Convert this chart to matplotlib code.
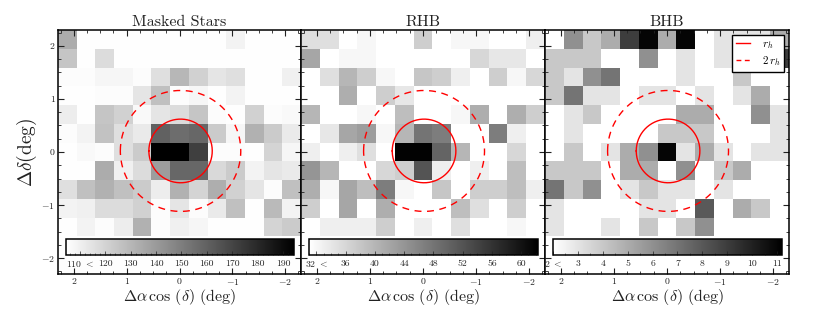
import numpy as np
import matplotlib
matplotlib.use("Agg")
import matplotlib.pyplot as plt

plt.rcParams['font.family'] = ['cmr10', 'DejaVu Serif']
plt.rcParams['mathtext.fontset'] = 'cm'
plt.rcParams['axes.formatter.use_mathtext'] = True
plt.rcParams['axes.unicode_minus'] = False

titles = ["Masked Stars", "RHB", "BHB"]

# counts per cell, top row first (the two rows behind the colorbar are empty)
masked = [
    [134, 105, 105, 105, 105, 105, 105, 105, 105, 109, 105, 105, 105],
    [125, 105, 117, 105, 105, 105, 105, 105, 105, 105, 105, 105, 105],
    [106, 106, 108, 108, 106, 116, 130, 121, 114, 116, 105, 105, 110],
    [105, 105, 106, 106, 114, 127, 106, 108, 105, 109, 105, 105, 105],
    [111, 105, 125, 121, 107, 114, 117, 125, 106, 105, 121, 106, 107],
    [106, 109, 126, 116, 112, 160, 156, 158, 123, 108, 132, 123, 112],
    [105, 107, 106, 116, 123, 194, 194, 172, 106, 106, 105, 120, 108],
    [105, 105, 134, 110, 117, 139, 158, 158, 118, 123, 109, 114, 112],
    [116, 127, 132, 127, 123, 111, 132, 120, 133, 121, 114, 106, 127],
    [109, 110, 117, 117, 121, 106, 114, 106, 112, 127, 105, 129, 109],
    [105, 109, 106, 111, 132, 106, 110, 108, 105, 105, 105, 120, 123],
    [105] * 13,
    [105] * 13,
]
rhb = [
    [35, 35, 31, 32, 31, 31, 37, 31, 32, 32, 31, 31, 33],
    [42, 31, 32, 32, 31, 31, 31, 31, 31, 36, 34, 34, 31],
    [31, 35, 40, 37, 32, 31, 38, 37, 33, 31, 37, 32, 36],
    [31, 31, 41, 31, 37, 34, 31, 31, 31, 31, 31, 31, 31],
    [40, 31, 31, 32, 31, 39, 31, 31, 32, 41, 31, 41, 37],
    [31, 34, 42, 43, 32, 40, 48, 47, 31, 31, 47, 33, 31],
    [33, 31, 33, 35, 31, 62, 62, 50, 40, 31, 31, 36, 31],
    [44, 40, 31, 31, 36, 37, 52, 33, 31, 33, 31, 39, 31],
    [41, 32, 42, 39, 47, 32, 31, 38, 31, 37, 37, 39, 33],
    [37, 31, 42, 31, 41, 31, 31, 31, 39, 35, 31, 37, 31],
    [31, 33, 33, 33, 37, 31, 33, 31, 35, 31, 31, 32, 31],
    [31] * 13,
    [31] * 13,
]
bhb = [
    [2, 6, 4, 5, 9, 11, 5, 11, 2, 3, 3, 3, 5],
    [4, 4, 4, 2, 2, 6, 2, 3, 2, 3, 2, 2, 9],
    [4, 3, 6, 7, 2, 2, 2, 3, 2, 2, 4, 2, 2],
    [4, 7, 3, 3, 2, 3, 3, 2, 3, 2, 3, 5, 2],
    [2, 3, 4, 2, 2, 2, 2, 5, 5, 2, 2, 6, 3],
    [2, 3, 2, 2, 2, 2, 4, 4, 4, 2, 2, 2, 3],
    [2, 4, 2, 3, 5, 6, 11, 3, 5, 3, 2, 3, 3],
    [4, 4, 4, 2, 5, 5, 2, 6, 2, 4, 5, 2, 2],
    [7, 4, 6, 2, 3, 4, 3, 3, 2, 3, 2, 2, 2],
    [3, 2, 2, 2, 2, 3, 3, 2, 8, 2, 5, 4, 2],
    [3, 2, 2, 3, 2, 4, 2, 4, 6, 2, 2, 2, 2],
    [2] * 13,
    [2] * 13,
]
grids = [masked, rhb, bhb]

vmins = [104.6, 31.0, 2.0]
vmaxs = [194.3, 62.3, 11.2]
cbar_ticks = [
    [110, 120, 130, 140, 150, 160, 170, 180, 190],
    [32, 36, 40, 44, 48, 52, 56, 60],
    [2, 3, 4, 5, 6, 7, 8, 9, 10, 11],
]
cbar_minor = [2, 1, 0.5]

r_h = 0.6
r_2h = 1.14
lim = 2.3
edges = np.linspace(lim, -lim, 14)
angle = np.linspace(0, 2 * np.pi, 200)

W, H = 830.0, 312.0
lefts = [58, 301, 545]
rights = [301, 545, 789]
top, bottom = 30, 274

fig = plt.figure(figsize=(8.3, 3.12), dpi=100)

for i in range(3):
    ax = fig.add_axes([lefts[i] / W, 1 - bottom / H, (rights[i] - lefts[i]) / W, (bottom - top) / H])
    mesh = ax.pcolormesh(edges, edges, np.array(grids[i]), cmap='gray_r', vmin=vmins[i], vmax=vmaxs[i])

    ax.plot(r_h * np.cos(angle) - 0.02, r_h * np.sin(angle) + 0.02, color='red', lw=1, label=r'$r_h$')
    ax.plot(r_2h * np.cos(angle) - 0.02, r_2h * np.sin(angle) + 0.02, color='red', lw=1,
            ls=(0, (5, 4)), label=r'$2\,r_h$')

    ax.set_xlim(lim, -lim)
    ax.set_ylim(-lim, lim)
    ax.set_xticks([2, 1, 0, -1, -2])
    ax.set_xticklabels(['2', '1', '0', r'$-1$', r'$-2$'])
    ax.set_yticks([-2, -1, 0, 1, 2])
    ax.set_yticklabels([r'$-2$', r'$-1$', '0', '1', '2'])
    ax.xaxis.set_minor_locator(plt.MultipleLocator(0.25))
    ax.yaxis.set_minor_locator(plt.MultipleLocator(0.25))
    ax.tick_params(which='both', direction='in', top=True, right=True, labelsize=7, colors='#222222')
    ax.tick_params(which='major', length=4, width=0.8, pad=2.5)
    ax.tick_params(which='minor', length=2, width=0.6)
    if i > 0:
        ax.tick_params(labelleft=False)
    for s in ax.spines.values():
        s.set_linewidth(1.1)

    ax.set_title(titles[i], fontsize=11.5, pad=3, color='#222222')
    ax.set_xlabel(r'$\Delta\alpha\,\cos\,(\delta)\ ({\rm deg})$', fontsize=11.5, labelpad=0, color='#222222')
    if i == 0:
        ax.set_ylabel(r'$\Delta\delta({\rm deg})$', fontsize=14, labelpad=1, color='#222222')
    if i == 2:
        leg = ax.legend(loc='upper right', fontsize=8, fancybox=False, framealpha=1, edgecolor='black',
                        borderaxespad=0.45, handlelength=1.3, handletextpad=1.0, labelspacing=0.3,
                        borderpad=0.35)
        leg.get_frame().set_linewidth(1.0)
        leg.get_lines()[1].set_linestyle((0, (3.5, 2.5)))

    cax = ax.inset_axes([0.033, 0.078, 0.938, 0.066])
    cb = fig.colorbar(mesh, cax=cax, orientation='horizontal')
    cb.set_ticks(cbar_ticks[i])
    labels = [str(t) for t in cbar_ticks[i]]
    labels[0] = labels[0] + r' $<$'
    cb.set_ticklabels(labels)
    cax.xaxis.set_minor_locator(plt.MultipleLocator(cbar_minor[i]))
    cax.tick_params(which='both', direction='in', labelsize=7, bottom=True, top=False, colors='#222222')
    cax.tick_params(which='major', length=3, width=0.5, pad=3)
    cax.tick_params(which='minor', length=1.5, width=0.4)
    cb.outline.set_linewidth(1.1)

plt.savefig("out.png", dpi=100)
